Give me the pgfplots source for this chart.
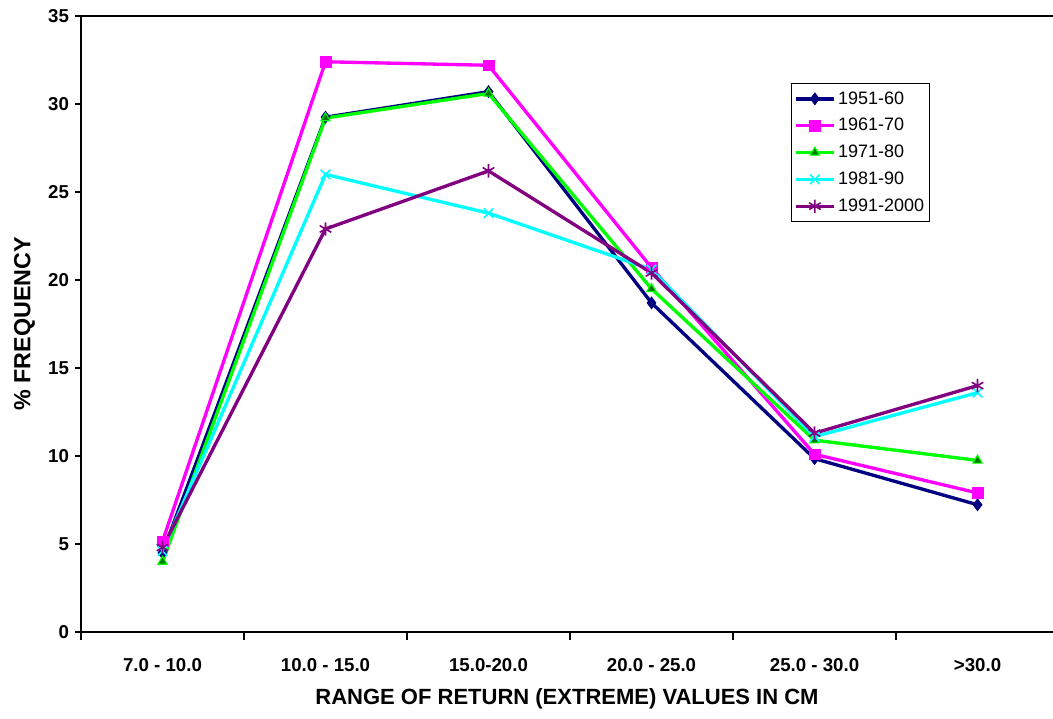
\documentclass[border=0pt]{standalone}
\usepackage{fontspec}
\setmainfont{Liberation Sans}
\usepackage{pgfplots}
\pgfplotsset{compat=1.18}
\definecolor{cnavy}{RGB}{0,0,128}
\definecolor{cmag}{RGB}{255,0,255}
\definecolor{cgreen}{RGB}{0,255,0}
\definecolor{cdgreen}{RGB}{0,120,0}
\definecolor{ccyan}{RGB}{0,255,255}
\definecolor{cpurple}{RGB}{128,0,128}
\begin{document}
\begin{tikzpicture}
\begin{axis}[
  scale only axis,
  width=729pt, height=462pt,
  xmin=-0.5, xmax=5.463, ymin=0, ymax=35,
  axis lines=left,
  axis line style={-, line width=1pt, black},
  tick align=outside,
  ytick={0,5,...,35},
  xtick={0,...,5},
  xticklabels={7.0 - 10.0, 10.0 - 15.0, 15.0-20.0, 20.0 - 25.0, 25.0 - 30.0, >30.0},
  major x tick style={draw=none},
  minor xtick={-0.5,0.5,...,4.5},
  minor tick length=6pt,
  major tick length=4.5pt,
  tick style={black, line width=0.8pt},
  /pgf/number format/assume math mode=true,
  ticklabel style={font=\bfseries\fontsize{14}{16}\selectfont},
  xticklabel style={yshift=-12pt},
  yticklabel style={xshift=-1pt},
  xlabel={RANGE OF RETURN (EXTREME) VALUES IN CM},
  ylabel={\% FREQUENCY},
  xlabel style={font=\bfseries\fontsize{16.5}{18}\selectfont, at={(axis description cs:0.5,0)}, anchor=center, yshift=-50pt},
  ylabel style={font=\bfseries\fontsize{17.5}{20}\selectfont, xshift=0pt, yshift=3pt},
  legend style={at={(0.7305,0.8912)}, anchor=north west, draw=black, line width=0.8pt,
    font=\fontsize{13.5}{16}\selectfont, row sep=5.2pt, inner xsep=2pt, inner ysep=4pt},
  legend cell align=left,
  legend image code/.code={\draw[mark repeat=2,mark phase=2] plot coordinates {(0cm,0cm) (0.5cm,0cm) (1cm,0cm)};},
  clip=false,
]
\addplot[cnavy, line width=2.5pt, mark=diamond*, mark size=4.5pt, mark options={solid, line width=0.5pt}]
  coordinates {(0,4.5) (1,29.25) (2,30.7) (3,18.7) (4,9.85) (5,7.23)};
\addlegendentry{1951-60}
\addplot[cmag, line width=2.5pt, mark=square*, mark size=4pt, mark options={solid, line width=0.5pt}]
  coordinates {(0,5.15) (1,32.4) (2,32.2) (3,20.7) (4,10.1) (5,7.9)};
\addlegendentry{1961-70}
\addplot[cgreen, line width=2.5pt, mark=triangle*, mark size=4pt, mark options={solid, line width=0.8pt, fill=cdgreen, draw=cgreen}]
  coordinates {(0,4.0) (1,29.2) (2,30.6) (3,19.5) (4,10.9) (5,9.75)};
\addlegendentry{1971-80}
\addplot[ccyan, line width=2.5pt, mark=x, mark size=5pt, mark options={solid, line width=1.2pt}]
  coordinates {(0,4.6) (1,26.0) (2,23.8) (3,20.6) (4,11.1) (5,13.6)};
\addlegendentry{1981-90}
\addplot[cpurple, line width=2.5pt, mark=asterisk, mark size=5pt, mark options={solid, line width=1.2pt}]
  coordinates {(0,4.8) (1,22.9) (2,26.2) (3,20.4) (4,11.3) (5,14.0)};
\addlegendentry{1991-2000}
\draw[black, line width=1pt] (rel axis cs:0,1) -- (rel axis cs:1,1);
\end{axis}
\pgfresetboundingbox
\path (-60.75pt,-64.5pt) rectangle (729pt,474pt);
\end{tikzpicture}
\end{document}
